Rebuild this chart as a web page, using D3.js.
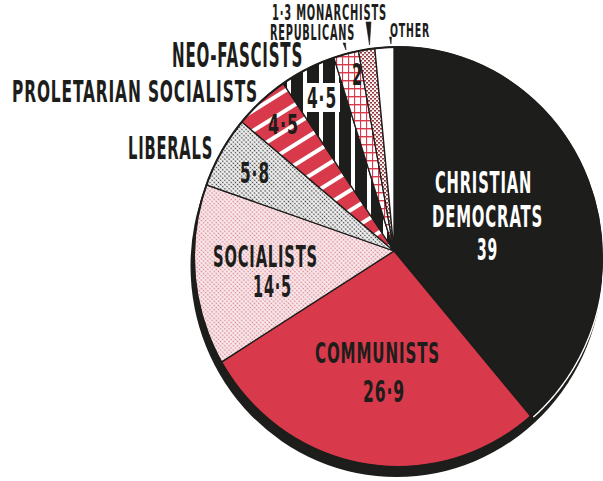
<!DOCTYPE html>
<html>
<head>
<meta charset="utf-8">
<script src="https://cdn.jsdelivr.net/npm/d3@7"></script>
<style>
  html, body { margin: 0; padding: 0; background: #ffffff; }
  svg { display: block; }
  text { font-family: "Liberation Sans Narrow", "DejaVu Sans Condensed", "Roboto", sans-serif; font-weight: bold; letter-spacing: 1.5px; }
</style>
</head>
<body>
<svg id="chart" width="603" height="481"></svg>
<script>
// Share of the vote, per cent, clockwise from twelve o'clock
const parties = ["CHRISTIAN DEMOCRATS", "COMMUNISTS", "SOCIALISTS", "LIBERALS",
                 "PROLETARIAN SOCIALISTS", "NEO-FASCISTS", "REPUBLICANS", "MONARCHISTS", "OTHER"];
const shares = [39, 26.9, 14.5, 5.8, 4.5, 4.5, 2, 1.3, 1.5];

// Fill for each slice (solid colours or patterns defined below)
const sliceFills = ["#1d1d1b", "#d8394b", "url(#pinkDots)", "url(#greyDots)",
                    "url(#redStripes)", "url(#blackStripes)", "url(#redGrid)", "url(#brownWeave)", "#ffffff"];

const INK = "#1d1d1b";
const RED = "#d8394b";

// Disc geometry: slices meet at the apex, the face is a slightly tall ellipse
const apex = { x: 394, y: 251 };
const face = { cx: 398, cy: 257, rx: 204, ry: 210 };
const rim  = { dx: -1.5, dy: 9, grow: 2 };

// Label placement: which party, which part of its text, where, how wide, how big
const labelLayout = [
  { i: 0, part: "n0", x: 435, y: 193, w: 97,  s: 30, c: "#ffffff" },
  { i: 0, part: "n1", x: 432, y: 227, w: 111, s: 30, c: "#ffffff" },
  { i: 0, part: "v",  x: 477, y: 260, w: 21,  s: 30, c: "#ffffff" },
  { i: 1, part: "n",  x: 315, y: 363, w: 125, s: 29 },
  { i: 1, part: "v",  x: 363, y: 402, w: 42,  s: 30 },
  { i: 2, part: "n",  x: 213, y: 267, w: 105, s: 30 },
  { i: 2, part: "v",  x: 253, y: 297, w: 39,  s: 30 },
  { i: 3, part: "n",  x: 128, y: 159, w: 85,  s: 32 },
  { i: 3, part: "v",  x: 240, y: 183, w: 30,  s: 28 },
  { i: 4, part: "n",  x: 12,  y: 102, w: 246, s: 30 },
  { i: 4, part: "v",  x: 268, y: 134, w: 31,  s: 27 },
  { i: 5, part: "n",  x: 172, y: 67,  w: 131, s: 33 },
  { i: 5, part: "v",  x: 307, y: 108, w: 30,  s: 29 },
  { i: 6, part: "n",  x: 270, y: 40,  w: 85,  s: 21 },
  { i: 6, part: "v",  x: 352, y: 85,  w: 11,  s: 30 },
  { i: 7, part: "vn", x: 272, y: 20,  w: 115, s: 21 },
  { i: 8, part: "n",  x: 390, y: 37,  w: 40,  s: 19.5 }
];

// Small leader ticks from the outside labels to their thin slices
const leaders = [
  [[343, 43], [345.5, 43], [346, 50]],
  [[366, 22], [371, 22], [369.5, 45]],
  [[389.5, 37], [391.5, 37], [391, 44]]
];

const fmt = v => String(v).replace(".", "\u00B7");
function labelText(d) {
  const name = parties[d.i];
  switch (d.part) {
    case "v":  return fmt(shares[d.i]);
    case "n0": return name.split(" ")[0];
    case "n1": return name.split(" ").slice(1).join(" ");
    case "vn": return fmt(shares[d.i]) + " " + name;
    default:   return name;
  }
}

const svg = d3.select("#chart");
const defs = svg.append("defs");

// Pink halftone
const pink = defs.append("pattern").attr("id", "pinkDots")
  .attr("patternUnits", "userSpaceOnUse").attr("width", 3).attr("height", 3)
  .attr("patternTransform", "rotate(45)");
pink.append("rect").attr("width", 3).attr("height", 3).attr("fill", "#f9ebed");
pink.append("circle").attr("cx", 1.5).attr("cy", 1.5).attr("r", 0.85).attr("fill", "#d9808d");

// Grey halftone
const grey = defs.append("pattern").attr("id", "greyDots")
  .attr("patternUnits", "userSpaceOnUse").attr("width", 3).attr("height", 3)
  .attr("patternTransform", "rotate(45)");
grey.append("rect").attr("width", 3).attr("height", 3).attr("fill", "#f0f0f0");
grey.append("circle").attr("cx", 1.5).attr("cy", 1.5).attr("r", 0.8).attr("fill", "#333333");

// Red with white diagonal bars
const rs = defs.append("pattern").attr("id", "redStripes")
  .attr("patternUnits", "userSpaceOnUse").attr("width", 17).attr("height", 17)
  .attr("patternTransform", "rotate(-32)");
rs.append("rect").attr("width", 17).attr("height", 17).attr("fill", RED);
rs.append("rect").attr("y", 5).attr("width", 17).attr("height", 4).attr("fill", "#ffffff");

// Black with white vertical bars
const bs = defs.append("pattern").attr("id", "blackStripes")
  .attr("patternUnits", "userSpaceOnUse").attr("x", 335).attr("width", 16).attr("height", 10);
bs.append("rect").attr("width", 16).attr("height", 10).attr("fill", INK);
bs.append("rect").attr("x", 0).attr("width", 4).attr("height", 10).attr("fill", "#ffffff");

// White with a red grid
const rg = defs.append("pattern").attr("id", "redGrid")
  .attr("patternUnits", "userSpaceOnUse").attr("width", 6).attr("height", 8);
rg.append("rect").attr("width", 6).attr("height", 8).attr("fill", "#ffffff");
rg.append("rect").attr("width", 1.1).attr("height", 8).attr("fill", RED);
rg.append("rect").attr("width", 6).attr("height", 1.4).attr("fill", RED);

// Brown woven texture
const bw = defs.append("pattern").attr("id", "brownWeave")
  .attr("patternUnits", "userSpaceOnUse").attr("width", 4).attr("height", 4);
bw.append("rect").attr("width", 4).attr("height", 4).attr("fill", "#fbf3f3");
bw.append("rect").attr("x", 0).attr("y", 0).attr("width", 2).attr("height", 1.6).attr("fill", "#93393e");
bw.append("rect").attr("x", 2).attr("y", 2).attr("width", 2).attr("height", 1.6).attr("fill", "#93393e");

// Where a ray from the apex at angle a (clockwise from up) meets an ellipse
function hit(a, e) {
  const dx = Math.sin(a), dy = -Math.cos(a);
  const px = (apex.x - e.cx) / e.rx, py = (apex.y - e.cy) / e.ry;
  const qx = dx / e.rx, qy = dy / e.ry;
  const A = qx * qx + qy * qy, B = 2 * (px * qx + py * qy), C = px * px + py * py - 1;
  const t = (-B + Math.sqrt(B * B - 4 * A * C)) / (2 * A);
  return [apex.x + t * dx, apex.y + t * dy];
}

const pie = d3.pie().sort(null).value(d => d)(shares);
const line = d3.line();

function slicePath(a0, a1) {
  const n = Math.max(2, Math.ceil((a1 - a0) / 0.01));
  const pts = [[apex.x, apex.y]];
  for (let k = 0; k <= n; k++) pts.push(hit(a0 + (a1 - a0) * k / n, face));
  return line(pts) + "Z";
}

// Edge of the disc, seen below the face
svg.append("ellipse")
  .attr("cx", face.cx + rim.dx).attr("cy", face.cy + rim.dy)
  .attr("rx", face.rx + rim.grow).attr("ry", face.ry + rim.grow * 0.5)
  .attr("fill", INK);

// Slices
svg.append("g").selectAll("path").data(pie).join("path")
  .attr("d", d => slicePath(d.startAngle, d.endAngle))
  .attr("fill", (d, i) => sliceFills[i])
  .attr("stroke", INK).attr("stroke-width", 1.3).attr("stroke-linejoin", "round");

// Outline of the face
svg.append("ellipse")
  .attr("cx", face.cx).attr("cy", face.cy).attr("rx", face.rx).attr("ry", face.ry)
  .attr("fill", "none").attr("stroke", INK).attr("stroke-width", 2);

// Light catching the edge on the lower right
const glint = d3.range(92, 140.5, 0.5).map(deg => {
  const p = hit(deg * Math.PI / 180, face);
  const ux = p[0] - face.cx, uy = p[1] - face.cy, L = Math.hypot(ux, uy);
  return [p[0] + ux / L * 2.2, p[1] + uy / L * 2.2];
});
svg.append("path").attr("d", line(glint))
  .attr("fill", "none").attr("stroke", "#ffffff").attr("stroke-width", 1.4);

// White panel behind the Neo-Fascist figure
svg.append("rect").attr("x", 303).attr("y", 83).attr("width", 37).attr("height", 29)
  .attr("fill", "#ffffff");

// Leader ticks
svg.append("g").selectAll("path").data(leaders).join("path")
  .attr("d", d => line(d) + "Z").attr("fill", INK).attr("stroke", INK).attr("stroke-width", 0.6);

// Labels
svg.append("g").selectAll("text").data(labelLayout).join("text")
  .attr("x", d => d.x).attr("y", d => d.y)
  .attr("font-size", d => d.s)
  .attr("textLength", d => d.w).attr("lengthAdjust", "spacingAndGlyphs")
  .attr("fill", d => d.c || INK)
  .text(labelText);
</script>
</body>
</html>
